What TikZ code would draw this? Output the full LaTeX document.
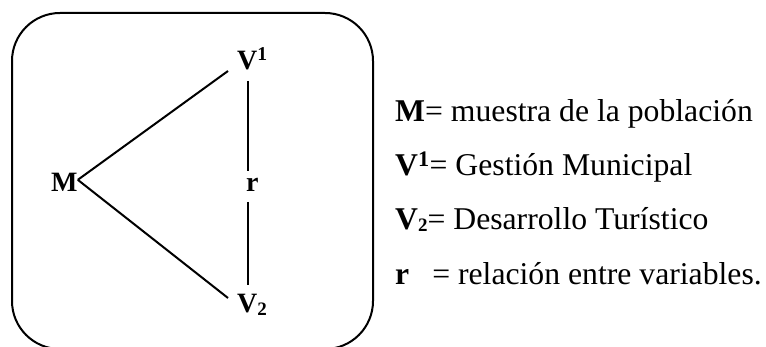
\documentclass[tikz,border=0pt]{standalone}
\usepackage{fontspec}
\setmainfont{Liberation Serif}
\newcommand{\subtwo}[1]{\raisebox{-2pt}{\fontsize{#1}{#1}\selectfont 2}}
\begin{document}
\begin{tikzpicture}[x=1pt,y=-1pt,
  lbl/.style={inner sep=0pt, anchor=base west, font=\fontsize{28}{34}\selectfont\bfseries},
  leg/.style={inner sep=0pt, anchor=base west, font=\fontsize{31.7}{38}\selectfont},
  conn/.style={line width=2pt},
  frame/.style={line width=2pt, rounded corners=48pt}]
\useasboundingbox (0,0) rectangle (766,347);
\draw[frame] (12,13) rectangle (373,349);
\node[lbl] (M) at (51,192) {M};
\node[lbl] (V1) at (237,70) {V\textsuperscript{1}};
\node[lbl] (V2) at (237,313) {V\subtwo{19}};
\node[lbl] (r) at (246,192) {r};
\draw[conn] ([yshift=3pt]M.east) -- ([shift={(-9pt,-1pt)}]V1.base west);
\draw[conn] ([yshift=3pt]M.east) -- ([shift={(-9pt,15pt)}]V2.base west);
\draw[conn] ([shift={(11pt,-11pt)}]V1.base west) -- ([shift={(2pt,21pt)}]r.base west);
\draw[conn] ([shift={(2pt,-10pt)}]r.base west) -- ([shift={(11pt,28pt)}]V2.base west);
\node[leg] (l1) at (395,122) {\textbf{M}= muestra de la población};
\node[leg] (l2) at (395,176) {\textbf{V\textsuperscript{1}}= Gestión Municipal};
\node[leg] (l3) at (395,230) {\textbf{V\subtwo{19}}= Desarrollo Turístico};
\node[leg] (l4) at (395,285) {\textbf{r}\hspace{23pt}= relación entre variables.};
\end{tikzpicture}
\end{document}
